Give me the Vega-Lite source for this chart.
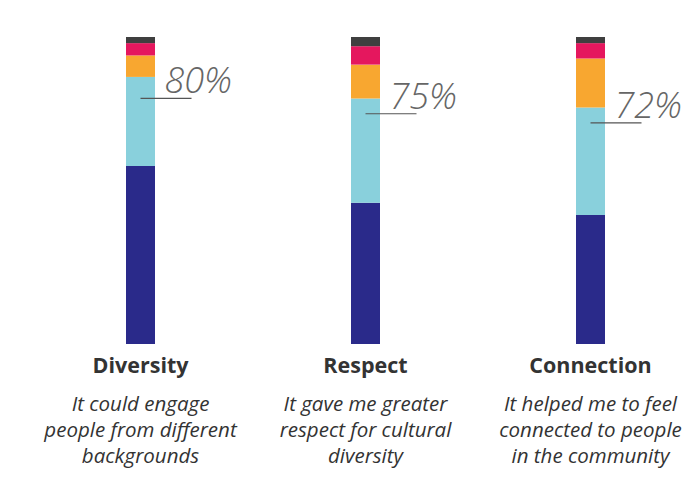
{
  "$schema": "https://vega.github.io/schema/vega-lite/v6.json",
  "autosize": "none",
  "width": 682,
  "height": 307,
  "padding": {"left": 0, "top": 37, "right": 0, "bottom": 135},
  "background": "white",
  "config": {"view": {"stroke": null}},
  "datasets": {
    "bars": [
      {"question": "Diversity", "response": "Strongly agree", "rank": 1, "value": 58},
      {"question": "Diversity", "response": "Agree", "rank": 2, "value": 29},
      {"question": "Diversity", "response": "Neutral", "rank": 3, "value": 7},
      {"question": "Diversity", "response": "Disagree", "rank": 4, "value": 4},
      {"question": "Diversity", "response": "Strongly disagree", "rank": 5, "value": 2},
      {"question": "Respect", "response": "Strongly agree", "rank": 1, "value": 46},
      {"question": "Respect", "response": "Agree", "rank": 2, "value": 34},
      {"question": "Respect", "response": "Neutral", "rank": 3, "value": 11},
      {"question": "Respect", "response": "Disagree", "rank": 4, "value": 6},
      {"question": "Respect", "response": "Strongly disagree", "rank": 5, "value": 3},
      {"question": "Connection", "response": "Strongly agree", "rank": 1, "value": 42},
      {"question": "Connection", "response": "Agree", "rank": 2, "value": 35},
      {"question": "Connection", "response": "Neutral", "rank": 3, "value": 16},
      {"question": "Connection", "response": "Disagree", "rank": 4, "value": 5},
      {"question": "Connection", "response": "Strongly disagree", "rank": 5, "value": 2}
    ],
    "labels": [
      {"question": "Diversity", "pct": 80, "pctLabel": "80%", "subtitle": "It could engage\npeople from different\nbackgrounds"},
      {"question": "Respect", "pct": 75, "pctLabel": "75%", "subtitle": "It gave me greater\nrespect for cultural\ndiversity"},
      {"question": "Connection", "pct": 72, "pctLabel": "72%", "subtitle": "It helped me to feel\nconnected to people\nin the community"}
    ]
  },
  "encoding": {
    "x": {"field": "question", "type": "nominal", "sort": ["Diversity", "Respect", "Connection"], "scale": {"type": "point", "range": [140.5, 590.5], "padding": 0}, "axis": null}
  },
  "layer": [
    {
      "data": {"name": "bars"},
      "mark": {"type": "bar", "width": 29},
      "encoding": {
        "y": {"field": "value", "type": "quantitative", "stack": "zero", "scale": {"domain": [0, 100]}, "axis": null},
        "color": {"field": "response", "type": "nominal", "scale": {"domain": ["Strongly agree", "Agree", "Neutral", "Disagree", "Strongly disagree"], "range": ["#2a2a8a", "#89d0dc", "#f8a730", "#e5175e", "#3f3f3f"]}, "legend": null},
        "order": {"field": "rank", "type": "quantitative"}
      }
    },
    {
      "data": {"name": "labels"},
      "mark": {"type": "rule", "color": "#555555", "strokeWidth": 1.2, "x2Offset": 51},
      "encoding": {
        "x2": {"field": "question"},
        "y": {"field": "pct", "type": "quantitative"}
      }
    },
    {
      "data": {"name": "labels"},
      "mark": {"type": "text", "align": "left", "baseline": "alphabetic", "dx": 24, "dy": -5, "fontSize": 36, "fontStyle": "italic", "fontWeight": 300, "font": "Open Sans", "color": "#666666"},
      "encoding": {
        "y": {"field": "pct", "type": "quantitative"},
        "text": {"field": "pctLabel"}
      }
    },
    {
      "data": {"name": "labels"},
      "mark": {"type": "text", "align": "center", "baseline": "alphabetic", "dy": 29, "fontSize": 21.5, "fontWeight": "bold", "font": "Open Sans", "color": "#333333"},
      "encoding": {
        "y": {"datum": 0, "type": "quantitative"},
        "text": {"field": "question"}
      }
    },
    {
      "data": {"name": "labels"},
      "mark": {"type": "text", "align": "center", "baseline": "alphabetic", "dy": 67, "lineBreak": "\n", "lineHeight": 26, "fontSize": 20.5, "fontStyle": "italic", "font": "Open Sans", "color": "#333333"},
      "encoding": {
        "y": {"datum": 0, "type": "quantitative"},
        "text": {"field": "subtitle"}
      }
    }
  ]
}
